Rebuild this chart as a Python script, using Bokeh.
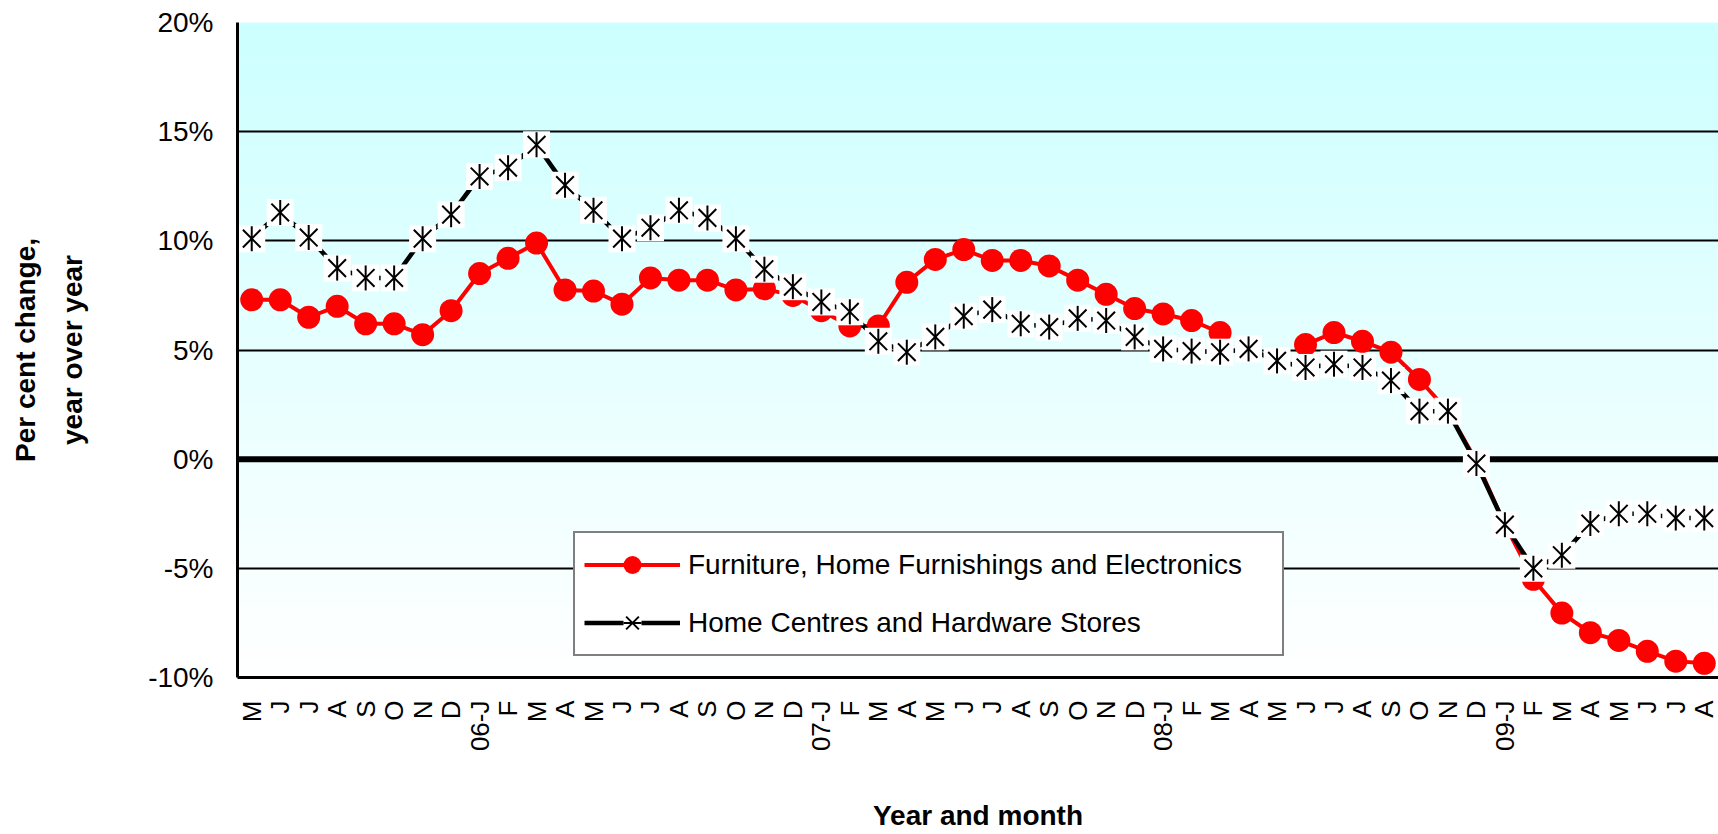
import numpy as np
from bokeh.plotting import figure
from bokeh.models import (FixedTicker, PrintfTickFormatter, Span, Legend, LegendItem,
                          LinearAxis, ColumnDataSource, Range1d)
from bokeh.embed import file_html
from bokeh.resources import INLINE

# ---------------- data ----------------
month_labels = ["M", "J", "J", "A", "S", "O", "N", "D",
                "06-J", "F", "M", "A", "M", "J", "J", "A", "S", "O", "N", "D",
                "07-J", "F", "M", "A", "M", "J", "J", "A", "S", "O", "N", "D",
                "08-J", "F", "M", "A", "M", "J", "J", "A", "S", "O", "N", "D",
                "09-J", "F", "M", "A", "M", "J", "J", "A"]

furniture = [7.3, 7.3, 6.5, 7.0, 6.2, 6.2, 5.7, 6.8,
             8.5, 9.2, 9.9, 7.75, 7.7, 7.1, 8.3, 8.2, 8.2, 7.75, 7.8, 7.5,
             6.8, 6.1, 6.1, 8.1, 9.15, 9.6, 9.1, 9.1, 8.85, 8.2, 7.55, 6.9,
             6.65, 6.35, 5.8, None, None, 5.25, 5.8, 5.4, 4.9, 3.65, 2.2, -0.1,
             -3.0, -5.5, -7.05, -7.95, -8.3, -8.8, -9.25, -9.35]

home_centres = [10.1, 11.3, 10.15, 8.75, 8.3, 8.3, 10.1, 11.2,
                12.95, 13.35, 14.4, 12.55, 11.4, 10.1, 10.6, 11.4, 11.05, 10.1, 8.7, 7.9,
                7.2, 6.75, 5.4, 4.9, 5.6, 6.55, 6.85, 6.2, 6.05, 6.45, 6.35, 5.6,
                5.05, 4.95, 4.9, 5.05, 4.5, 4.2, 4.35, 4.2, 3.6, 2.2, 2.2, -0.2,
                -3.0, -5.0, -4.4, -2.95, -2.5, -2.5, -2.7, -2.7]

series_names = ["Furniture, Home Furnishings and Electronics",
                "Home Centres and Hardware Stores"]
y_ticks = [-10, -5, 0, 5, 10, 15, 20]
y_min, y_max = -10, 20

FONT = "Liberation Sans"

n = len(month_labels)
xs = np.arange(n)
src = ColumnDataSource(dict(
    x=xs,
    furn=np.array(furniture, dtype=float),
    home=np.array(home_centres, dtype=float),
))

p = figure(width=1718, height=834, output_backend="svg", toolbar_location=None,
           x_range=Range1d(-0.5, n - 0.5), y_range=Range1d(y_min, y_max),
           min_border_left=237, min_border_right=0, min_border_top=22,
           min_border_bottom=156)
p.outline_line_color = None
p.background_fill_color = "#E6FFFF"
p.border_fill_color = "white"

# gradient background (light cyan at top -> white at bottom)
steps = 256
t = np.linspace(0, 1, steps)
img = np.empty((steps, 1), dtype=np.uint32)
view = img.view(dtype=np.uint8).reshape((steps, 1, 4))
view[:, 0, 0] = np.round(255 - 51 * t).astype(np.uint8)
view[:, 0, 1] = 255
view[:, 0, 2] = 255
view[:, 0, 3] = 255
p.image_rgba(image=[img], x=-0.5, y=y_min, dw=n + 1, dh=y_max - y_min, level="image")

# grid
p.xgrid.grid_line_color = None
p.ygrid.ticker = FixedTicker(ticks=y_ticks)
p.ygrid.grid_line_color = "black"
p.ygrid.grid_line_width = 2

p.add_layout(Span(location=0, dimension="width", line_color="black",
                  line_width=6, level="underlay"))

# series
r_line = p.line("x", "furn", source=src, line_color="#FF0000", line_width=4,
                line_join="round")
r_circ = p.scatter("x", "furn", source=src, marker="circle", size=23,
                   fill_color="#FF0000", line_color=None)
b_line = p.line("x", "home", source=src, line_color="black", line_width=4.5,
                line_join="round")
b_sq = p.scatter("x", "home", source=src, marker="square", size=27,
                 fill_color="white", line_color=None)
b_x = p.scatter("x", "home", source=src, marker="x", size=25,
                line_color="black", line_width=2)
b_dash = p.scatter("x", "home", source=src, marker="dash", size=25, angle=np.pi / 2,
                   line_color="black", line_width=2)

# x axis
p.xaxis.ticker = FixedTicker(ticks=list(range(n)))
p.xaxis.major_label_overrides = {i: lab for i, lab in enumerate(month_labels)}
p.xaxis.major_label_orientation = np.pi / 2
p.xaxis.major_label_text_font = FONT
p.xaxis.major_label_text_font_size = "26px"
p.xaxis.major_label_text_color = "black"
p.xaxis.major_label_standoff = 23
p.xaxis.major_tick_line_color = None
p.xaxis.minor_tick_line_color = None
p.xaxis.major_tick_out = 0
p.xaxis.axis_line_color = "black"
p.xaxis.axis_line_width = 3
p.xaxis.axis_label = "Year and month"
p.xaxis.axis_label_text_font = FONT
p.xaxis.axis_label_text_font_size = "28px"
p.xaxis.axis_label_text_font_style = "bold"
p.xaxis.axis_label_text_color = "black"
p.xaxis.axis_label_standoff = 46

# y axis
p.yaxis.ticker = FixedTicker(ticks=y_ticks)
p.yaxis.formatter = PrintfTickFormatter(format="%d%%")
p.yaxis.major_label_text_font = FONT
p.yaxis.major_label_text_font_size = "28px"
p.yaxis.major_label_text_color = "black"
p.yaxis.major_label_standoff = 24
p.yaxis.major_tick_line_color = None
p.yaxis.minor_tick_line_color = None
p.yaxis.major_tick_out = 0
p.yaxis.axis_line_color = "black"
p.yaxis.axis_line_width = 3
p.yaxis.axis_label = "year over year"
p.yaxis.axis_label_text_font = FONT
p.yaxis.axis_label_text_font_size = "28px"
p.yaxis.axis_label_text_font_style = "bold"
p.yaxis.axis_label_text_color = "black"
p.yaxis.axis_label_standoff = 57

outer = LinearAxis(ticker=FixedTicker(ticks=[]), axis_label="Per cent change,",
                   axis_line_color=None, major_tick_line_color=None,
                   minor_tick_line_color=None, major_tick_out=0, major_tick_in=0,
                   minor_tick_out=0, minor_tick_in=0, major_label_standoff=0,
                   axis_label_standoff=14, axis_label_text_font=FONT,
                   axis_label_text_font_size="28px", axis_label_text_font_style="bold",
                   axis_label_text_color="black")
p.add_layout(outer, "left")

# legend
legend = Legend(items=[
    LegendItem(label=series_names[0], renderers=[r_line, r_circ]),
    LegendItem(label=series_names[1], renderers=[b_line, b_sq, b_x, b_dash]),
], location=(336, 21))
legend.label_text_font = FONT
legend.label_text_font_size = "28px"
legend.label_text_color = "black"
legend.glyph_width = 96
legend.glyph_height = 45
legend.padding = 9
legend.spacing = 13
legend.margin = 0
legend.label_standoff = 8
legend.label_width = 585
legend.border_line_color = "black"
legend.border_line_width = 2
legend.background_fill_color = "white"
legend.background_fill_alpha = 1.0
p.add_layout(legend)

open("out.html", "w").write(file_html(p, INLINE))
